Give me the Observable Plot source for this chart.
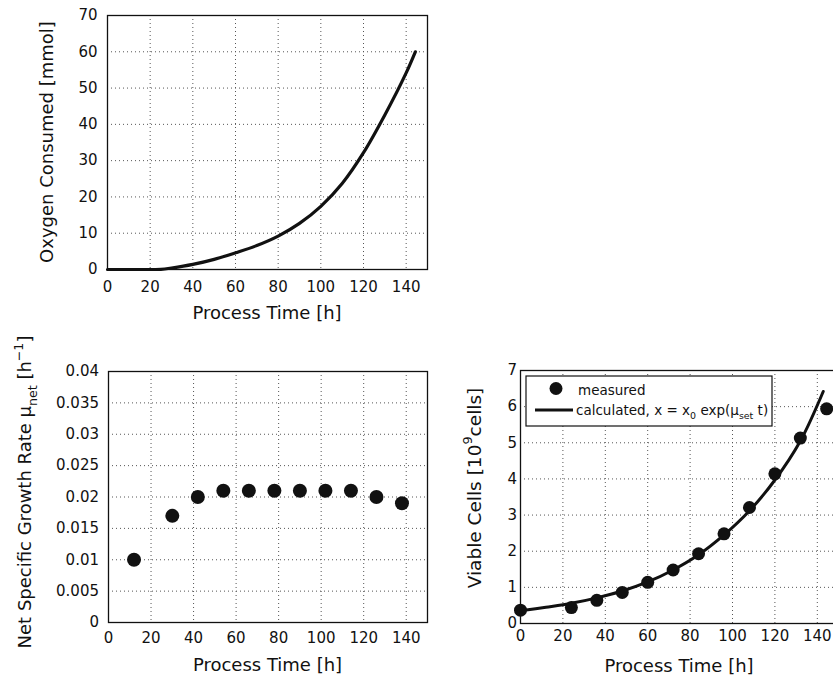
<!DOCTYPE html>
<html><head><meta charset="utf-8">
<script src="https://cdn.jsdelivr.net/npm/d3@7"></script>
<script src="https://cdn.jsdelivr.net/npm/@observablehq/plot@0.6"></script>
<style>
html,body{margin:0;padding:0;background:#fff;overflow:hidden;}
#wrap{position:relative;width:833px;height:678px;overflow:hidden;background:#fff;}
</style></head><body><div id="wrap"></div>
<script>
// ---- data ----
const o2Time = [0,10,20,25,30,40,50,60,70,80,90,100,110,120,130,140,144.3];
const o2Consumed = [0,0,0,0.03,0.4,1.4,2.8,4.6,6.6,9.2,12.7,17.4,23.7,32.2,42.6,54.2,60];
const muTime = [12,30,42,54,66,78,90,102,114,126,138];
const muNet = [0.01,0.017,0.02,0.021,0.021,0.021,0.021,0.021,0.021,0.02,0.019];
const cellTime = [0,24,36,48,60,72,84,96,108,120,132,144.4];
const cellMeasured = [0.37,0.44,0.64,0.86,1.14,1.48,1.93,2.48,3.21,4.14,5.13,5.94];
const calcTime = [0,12,24,36,48,60,72,84,96,108,120,132,142.8];
const calcCells = [0.35,0.45,0.56,0.71,0.9,1.15,1.48,1.9,2.45,3.12,3.97,5.05,6.42];
const xTicks = [0,20,40,60,80,100,120,140];
const o2Ticks = [0,10,20,30,40,50,60,70];
const muTicks = [0,0.005,0.01,0.015,0.02,0.025,0.03,0.035,0.04];
const muTickLabels = ["0","0.005","0.01","0.015","0.02","0.025","0.03","0.035","0.04"];
const cellTicks = [0,1,2,3,4,5,6,7];
const xLabel = "Process Time [h]";

const FONT = "DejaVu Sans, Verdana, sans-serif";
const INK = "#111";
const wrap = document.getElementById("wrap");

function gridMarks(yTicks){
  const g = {stroke:"#555", strokeOpacity:1, strokeWidth:1, strokeDasharray:"1,3"};
  return [Plot.gridX(xTicks.slice(1), g), Plot.gridY(yTicks.slice(1), g)];
}

function place(el, left, top){
  el.style.position = "absolute";
  el.style.left = left + "px";
  el.style.top = top + "px";
  el.style.background = "transparent";
  el.style.overflow = "visible";
  el.style.maxWidth = "none";
  wrap.appendChild(el);
  return d3.select(el);
}

function richText(sel, parts, size){
  let cur = 0;
  parts.forEach(([t,k]) => {
    const ts = sel.append("tspan").text(t);
    let target = 0;
    if (k === "sub") { ts.attr("font-size", size*0.7); target = size*0.33; }
    else if (k === "sup") { ts.attr("font-size", size*0.7); target = -size*0.45; }
    if (target !== cur) { ts.attr("dy", target - cur); cur = target; }
  });
}

function label(svg, x, y, parts, size, rotate){
  const t = svg.append("text")
    .attr("transform", `translate(${x},${y})` + (rotate ? " rotate(-90)" : ""))
    .attr("text-anchor","middle")
    .attr("font-family", FONT)
    .attr("font-size", size)
    .attr("fill", INK);
  richText(t, parts, size);
  return t;
}

// ---- Panel 1: oxygen consumed ----
const o2Data = o2Time.map((t,i) => ({t, v:o2Consumed[i]}));
const p1 = Plot.plot({
  width: 440, height: 330,
  marginLeft: 107, marginRight: 13, marginTop: 15, marginBottom: 61,
  style: {fontFamily: FONT, fontSize: "15px", color: INK},
  x: {domain:[0,150]}, y: {domain:[0,70]},
  marks: [
    ...gridMarks(o2Ticks),
    Plot.line(o2Data, {x:"t", y:"v", stroke:INK, strokeWidth:3.2, curve:"catmull-rom"}),
    Plot.frame({stroke:INK, strokeWidth:1.3}),
    Plot.axisX(xTicks, {tickSize:0, tickPadding:12, label:null}),
    Plot.axisY(o2Ticks, {tickSize:0, tickPadding:10, label:null})
  ]
});
const s1 = place(p1, 0, 0);
label(s1, 52.6, 142, [["Oxygen Consumed [mmol]","n"]], 18, true);
label(s1, 267, 318.5, [[xLabel,"n"]], 18, false);

// ---- Panel 2: net specific growth rate ----
const muData = muTime.map((t,i) => ({t, v:muNet[i]}));
const p2 = Plot.plot({
  width: 440, height: 358,
  marginLeft: 108, marginRight: 13, marginTop: 51, marginBottom: 56,
  style: {fontFamily: FONT, fontSize: "15px", color: INK},
  x: {domain:[0,150]}, y: {domain:[0,0.04]},
  marks: [
    ...gridMarks(muTicks),
    Plot.dot(muData, {x:"t", y:"v", r:7, fill:INK, stroke:"none"}),
    Plot.frame({stroke:INK, strokeWidth:1.3}),
    Plot.axisX(xTicks, {tickSize:0, tickPadding:9.5, label:null}),
    Plot.axisY(muTicks, {tickSize:0, tickPadding:9.5, label:null,
      tickFormat: d => muTickLabels[muTicks.indexOf(d)]})
  ]
});
const s2 = place(p2, 0, 320);
label(s2, 30.6, 172, [["Net Specific Growth Rate \u03bc","n"],["net","sub"],[" [h","n"],["\u22121","sup"],["]","n"]], 18, true);
label(s2, 267.5, 350.6, [[xLabel,"n"]], 18, false);

// ---- Panel 3: viable cells ----
const cellData = cellTime.map((t,i) => ({t, v:cellMeasured[i]}));
const calcData = calcTime.map((t,i) => ({t, v:calcCells[i]}));
const p3 = Plot.plot({
  width: 400, height: 328,
  marginLeft: 80, marginRight: 2, marginTop: 20, marginBottom: 55,
  style: {fontFamily: FONT, fontSize: "15px", color: INK},
  x: {domain:[0,150]}, y: {domain:[0,7]},
  marks: [
    ...gridMarks(cellTicks),
    Plot.line(calcData, {x:"t", y:"v", stroke:INK, strokeWidth:3, curve:"catmull-rom"}),
    Plot.dot(cellData, {x:"t", y:"v", r:6.5, fill:INK, stroke:"none"}),
    Plot.frame({stroke:INK, strokeWidth:1.3}),
    Plot.axisX(xTicks, {tickSize:0, tickPadding:6.5, label:null}),
    Plot.axisY(cellTicks, {tickSize:0, tickPadding:3.5, label:null})
  ]
});
const s3 = place(p3, 440, 350);
label(s3, 40.6, 138, [["Viable Cells [10","n"],["9","sup"],["cells]","n"]], 18.5, true);
label(s3, 239, 321.6, [[xLabel,"n"]], 18, false);

// legend
const lg = s3.append("g");
lg.append("rect").attr("x",86).attr("y",26).attr("width",246).attr("height",50)
  .attr("fill","#fff").attr("stroke",INK).attr("stroke-width",1.2);
lg.append("circle").attr("cx",116).attr("cy",38.5).attr("r",6.5).attr("fill",INK);
lg.append("line").attr("x1",95).attr("x2",133).attr("y1",60).attr("y2",60)
  .attr("stroke",INK).attr("stroke-width",3.2);
const lt1 = lg.append("text").attr("x",138).attr("y",44.5).attr("font-family",FONT)
  .attr("text-anchor","start").attr("font-size",13.5).attr("fill",INK);
richText(lt1, [["measured","n"]], 13.5);
const lt2 = lg.append("text").attr("x",136).attr("y",64.5).attr("font-family",FONT)
  .attr("text-anchor","start").attr("font-size",13.5).attr("fill",INK);
richText(lt2, [["calculated, x = x","n"],["0","sub"],[" exp(\u03bc","n"],["set","sub"],[" t)","n"]], 13.5);
</script>
</body></html>
